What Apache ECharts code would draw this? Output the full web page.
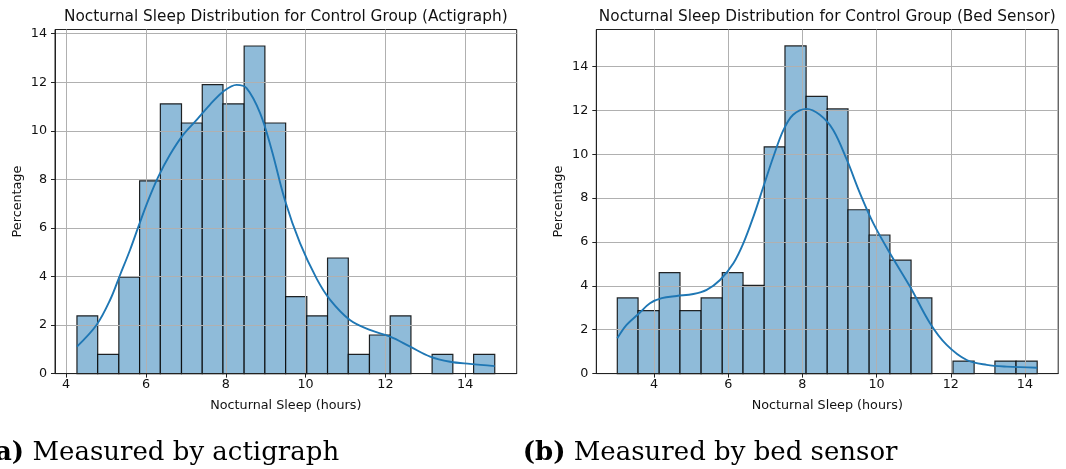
<!DOCTYPE html>
<html>
<head>
<meta charset="utf-8">
<script src="https://cdn.jsdelivr.net/npm/echarts@6/dist/echarts.min.js"></script>
<style>
  html, body { margin: 0; padding: 0; background: #fff; }
  #main { width: 1066px; height: 469px; }
</style>
</head>
<body>
<div id="main"></div>
<script>
  // bin edges (hours) and bar heights (%)
  var actiEdges = [4.27, 4.79, 5.32, 5.84, 6.36, 6.89, 7.41, 7.93, 8.46, 8.98, 9.50,
    10.03, 10.55, 11.07, 11.60, 12.12, 12.64, 13.17, 13.69, 14.21, 14.74];
  var actiPct = [2.38, 0.79, 3.97, 7.94, 11.11, 10.32, 11.90, 11.11, 13.49, 10.32,
    3.17, 2.38, 4.76, 0.79, 1.59, 2.38, 0, 0.79, 0, 0.79];

  var bedEdges = [3.01, 3.57, 4.14, 4.70, 5.27, 5.84, 6.40, 6.97, 7.53, 8.10, 8.67,
    9.23, 9.80, 10.36, 10.93, 11.49, 12.06, 12.63, 13.19, 13.76, 14.33];
  var bedPct = [3.45, 2.87, 4.60, 2.87, 3.45, 4.60, 4.02, 10.34, 14.94, 12.64,
    12.07, 7.47, 6.32, 5.17, 3.45, 0, 0.57, 0, 0.57, 0.57];

  // kde curves
  var actiKdeX = [4.27, 4.76, 5.10, 5.35, 5.60, 5.81, 6.06, 6.31, 6.60, 6.93, 7.27, 7.60,
    7.94, 8.27, 8.52, 8.86, 9.15, 9.48, 9.86, 10.28, 10.61, 11.11, 11.61, 12.12,
    12.62, 13.12, 13.62, 14.12, 14.74];
  var actiKdeY = [1.11, 2.00, 3.03, 4.06, 5.09, 6.05, 7.15, 8.11, 9.01, 9.83, 10.45, 11.07,
    11.62, 11.89, 11.76, 10.73, 9.21, 7.15, 5.37, 3.90, 3.05, 2.21, 1.80, 1.52,
    1.11, 0.70, 0.49, 0.40, 0.31];

  var bedKdeX = [3.01, 3.26, 3.58, 3.89, 4.21, 4.61, 5.06, 5.42, 5.78, 6.14, 6.41, 6.68,
    6.95, 7.22, 7.49, 7.75, 8.11, 8.47, 8.83, 9.20, 9.55, 9.91, 10.36, 10.90,
    11.44, 11.89, 12.43, 12.97, 13.51, 14.33];
  var bedKdeY = [1.61, 2.22, 2.72, 3.21, 3.44, 3.54, 3.63, 3.82, 4.27, 5.03, 5.95, 7.16,
    8.53, 9.90, 11.11, 11.80, 12.07, 11.80, 11.11, 9.74, 8.23, 6.86, 5.49, 3.97,
    2.30, 1.31, 0.62, 0.40, 0.32, 0.27];

  var xTicks = [4, 6, 8, 10, 12, 14];
  var yTicks = [0, 2, 4, 6, 8, 10, 12, 14];

  var titles = ['Nocturnal Sleep Distribution for Control Group (Actigraph)',
    'Nocturnal Sleep Distribution for Control Group (Bed Sensor)'];
  var captions = ['{b|(a)} Measured by actigraph', '{b|(b)} Measured by bed sensor'];

  var font = 'DejaVu Sans';
  var ink = '#111';

  function bins(edges, pct) {
    var out = [];
    for (var i = 0; i < pct.length; i++) {
      out.push([edges[i], edges[i + 1], pct[i]]);
    }
    return out;
  }

  function pairs(xs, ys) {
    var out = [];
    for (var i = 0; i < xs.length; i++) {
      out.push([xs[i], ys[i]]);
    }
    return out;
  }

  function renderBin(params, api) {
    var h = api.value(2);
    if (!h) {
      return null;
    }
    var p0 = api.coord([api.value(0), h]);
    var p1 = api.coord([api.value(1), 0]);
    return {
      type: 'rect',
      shape: { x: p0[0], y: p0[1], width: p1[0] - p0[0], height: p1[1] - p0[1] },
      style: { fill: '#8fbbd9', stroke: 'rgba(0,0,0,0.85)', lineWidth: 1.2 }
    };
  }

  function xAxisFor(idx, min, max) {
    return {
      type: 'value', gridIndex: idx, min: min, max: max,
      name: 'Nocturnal Sleep (hours)', nameLocation: 'middle', nameGap: 26,
      nameTextStyle: { fontFamily: font, fontSize: 12.75, color: ink },
      axisLine: { show: true, onZero: false, lineStyle: { color: '#222', width: 1 } },
      axisTick: { show: true, length: 4, customValues: xTicks, lineStyle: { color: '#222' } },
      axisLabel: { customValues: xTicks, margin: 5, fontFamily: font, fontSize: 12.75, color: ink },
      splitLine: { show: true, lineStyle: { color: '#b0b0b0', width: 1 } }
    };
  }

  function yAxisFor(idx, max) {
    return {
      type: 'value', gridIndex: idx, min: 0, max: max,
      name: 'Percentage', nameLocation: 'middle', nameGap: 31,
      nameTextStyle: { fontFamily: font, fontSize: 12.75, color: ink },
      axisLine: { show: true, lineStyle: { color: '#222', width: 1 } },
      axisTick: { show: true, length: 4, customValues: yTicks, lineStyle: { color: '#222' } },
      axisLabel: { customValues: yTicks, margin: 8, fontFamily: font, fontSize: 12.75, color: ink },
      splitLine: { show: true, lineStyle: { color: '#b0b0b0', width: 1 } }
    };
  }

  function captionFor(text, left) {
    return {
      text: text, left: left, top: 440, padding: 0,
      textStyle: {
        fontFamily: 'DejaVu Serif', fontSize: 26, fontWeight: 'normal', color: '#000',
        rich: { b: { fontFamily: 'DejaVu Serif', fontSize: 26, fontWeight: 'bold', color: '#000' } }
      }
    };
  }

  var myChart = echarts.init(document.getElementById('main'), null, { renderer: 'canvas' });

  myChart.setOption({
    backgroundColor: '#fff',
    animation: false,
    title: [
      {
        text: titles[0], left: 285.8, top: 9.5, textAlign: 'center', padding: 0,
        textStyle: { fontFamily: font, fontSize: 15.3, fontWeight: 'normal', color: ink }
      },
      {
        text: titles[1], left: 827.3, top: 9.5, textAlign: 'center', padding: 0,
        textStyle: { fontFamily: font, fontSize: 15.3, fontWeight: 'normal', color: ink }
      },
      captionFor(captions[0], -17.3),
      captionFor(captions[1], 522.7)
    ],
    grid: [
      { left: 55, top: 29.5, width: 461.7, height: 344.1, show: true, borderColor: '#222', borderWidth: 1 },
      { left: 596.3, top: 29.5, width: 461.9, height: 344.1, show: true, borderColor: '#222', borderWidth: 1 }
    ],
    xAxis: [xAxisFor(0, 3.72, 15.29), xAxisFor(1, 2.444, 14.896)],
    yAxis: [yAxisFor(0, 14.17), yAxisFor(1, 15.69)],
    series: [
      {
        type: 'custom', xAxisIndex: 0, yAxisIndex: 0, z: -1,
        renderItem: renderBin, encode: { x: [0, 1], y: 2 },
        data: bins(actiEdges, actiPct)
      },
      {
        type: 'line', xAxisIndex: 0, yAxisIndex: 0, smooth: 0.35, showSymbol: false,
        lineStyle: { color: '#1f77b4', width: 1.9 },
        data: pairs(actiKdeX, actiKdeY)
      },
      {
        type: 'custom', xAxisIndex: 1, yAxisIndex: 1, z: -1,
        renderItem: renderBin, encode: { x: [0, 1], y: 2 },
        data: bins(bedEdges, bedPct)
      },
      {
        type: 'line', xAxisIndex: 1, yAxisIndex: 1, smooth: 0.35, showSymbol: false,
        lineStyle: { color: '#1f77b4', width: 1.9 },
        data: pairs(bedKdeX, bedKdeY)
      }
    ]
  });
</script>
</body>
</html>
